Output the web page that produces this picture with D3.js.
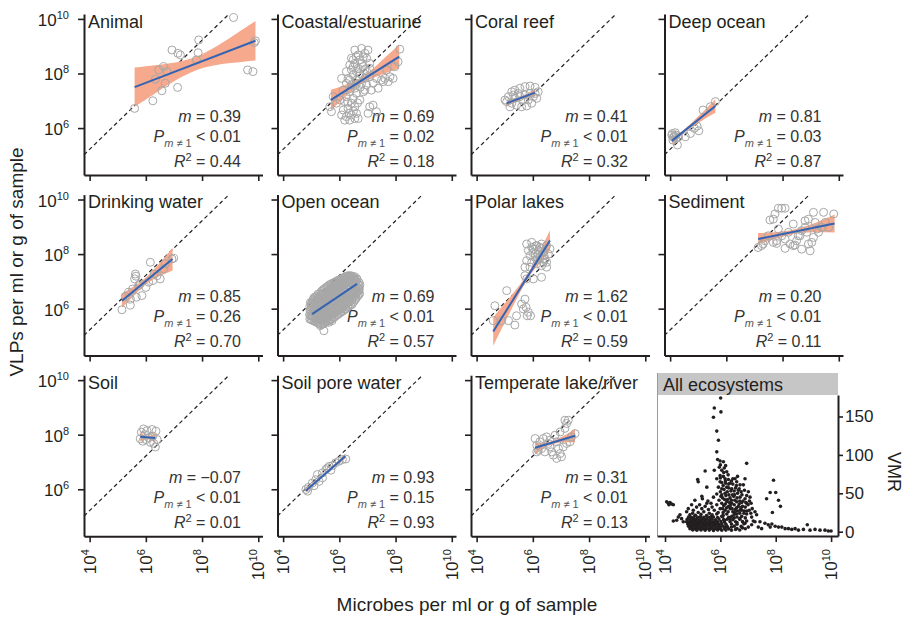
<!DOCTYPE html>
<html>
<head>
<meta charset="utf-8">
<script src="https://cdn.jsdelivr.net/npm/d3@7"></script>
<style>
  body { margin: 0; background: #fff; }
  svg { display: block; font-family: "Liberation Sans", Arial, Helvetica, sans-serif; }
</style>
</head>
<body>
<svg id="chart" width="903" height="617"></svg>
<script>
// all abundances are log10 values

const panelNames = ["Animal", "Coastal/estuarine", "Coral reef", "Deep ocean",
  "Drinking water", "Open ocean", "Polar lakes", "Sediment",
  "Soil", "Soil pore water", "Temperate lake/river"];

const statM = ["0.39", "0.69", "0.41", "0.81", "0.85", "0.69", "1.62", "0.20", "\u22120.07", "0.93", "0.31"];
const statP = ["< 0.01", "= 0.02", "< 0.01", "= 0.03", "= 0.26", "< 0.01", "< 0.01", "< 0.01", "< 0.01", "= 0.15", "< 0.01"];
const statR2 = ["0.44", "0.18", "0.32", "0.87", "0.70", "0.57", "0.59", "0.11", "0.01", "0.93", "0.13"];

const logTicks = [4, 6, 8, 10];
const logTicksY = [6, 8, 10];
const vmrTicks = [0, 50, 100, 150];

// dashed reference line (VLP vs microbes)
const refLine = [[3.8, 5.02], [8.93, 10.15]];

const animalPts = [[9.12,10.05],[7.88,9.23],[9.9,9.2],[9.86,9.13],[6.93,8.86],[7.14,8.74],[7.23,8.68],[7.86,8.76],[7.8,8.5],[6.63,8.25],[6.46,8.13],[6.75,8.07],[9.62,8.13],[9.81,8.07],[6.34,7.79],[6.69,7.64],[7.13,7.49],[6.57,7.37],[6.25,7.0],[5.6,6.72]];

const coastalPts = [[6.55,8.86],[6.79,8.92],[7.02,8.86],[6.91,8.74],[6.67,8.68],[6.43,8.56],[6.37,8.31],[6.55,8.37],[6.73,8.5],[6.97,8.56],[7.08,8.37],[6.85,8.25],[6.67,8.19],[6.43,8.13],[6.49,7.94],[6.73,8.0],[6.97,8.07],[7.08,8.19],[6.25,8.07],[6.31,7.82],[6.61,7.76],[6.91,7.82],[7.08,7.88],[6.79,7.64],[6.43,7.58],[6.25,7.64],[6.08,7.82],[6.55,7.46],[6.97,7.58],[7.2,7.64],[7.32,7.82],[7.5,7.76],[7.62,7.82],[7.8,7.88],[7.91,7.82],[7.38,7.46],[7.14,7.39],[6.85,7.33],[6.61,7.27],[6.37,7.33],[6.14,7.39],[6.25,7.15],[6.49,7.09],[6.73,7.03],[6.43,6.91],[6.19,6.97],[6.02,7.03],[6.31,6.72],[6.55,6.78],[6.14,6.66],[6.08,6.48],[6.25,6.42],[6.43,6.48],[6.61,6.54],[6.37,6.29],[6.55,6.35],[6.19,6.29],[6.67,6.35],[7.08,6.78],[7.2,6.84],[7.32,6.6],[7.02,6.54],[5.72,6.6],[5.66,6.78],[5.9,6.91],[5.78,7.15],[8.09,8.43],[8.15,8.89],[7.97,8.25],[7.68,8.13],[7.56,7.7],[7.74,7.7],[6.79,8.37],[6.49,8.5],[6.91,7.39],[6.37,7.76],[6.61,8.07],
  [6.6,8.62],[6.85,8.6],[6.5,8.25],[6.7,7.9],[6.9,8.15],[6.6,7.6],[6.4,7.45],[6.75,7.5],[6.3,6.95],[6.5,6.62],[6.35,6.55],[6.65,6.92]];

const coralPts = [[5.01,7.03],[5.13,7.15],[5.25,7.33],[5.36,7.39],[5.54,7.46],[5.72,7.52],[5.9,7.54],[6.08,7.49],[6.19,7.33],[6.14,7.09],[5.96,6.91],[5.78,6.81],[5.6,6.78],[5.42,6.84],[5.25,6.91],[5.19,6.78],[5.36,7.09],[5.54,7.15],[5.72,7.21],[5.9,7.27],[5.66,7.03],[5.84,7.03],[6.02,7.15],[5.48,7.27],[5.31,7.21],[5.07,6.97],[6.08,7.27]];

const deepPts = [[4.06,5.74],[4.12,5.66],[4.22,5.74],[4.18,5.83],[4.3,5.68],[4.1,5.56],[4.26,5.38],[4.54,5.68],[4.72,5.8],[4.86,5.99],[4.96,6.07],[5.17,6.66],[5.43,6.78],[5.61,6.97],[5.02,5.9],[4.08,5.8],[4.15,5.7],[4.2,5.62]];

const drinkingPts = [[5.15,5.96],[5.45,6.13],[5.63,7.27],[5.65,7.19],[5.6,7.09],[5.86,6.48],[5.66,6.42],[6.0,6.78],[6.16,7.7],[6.25,7.03],[6.4,7.21],[6.51,7.09],[6.63,7.46],[6.69,7.64],[6.93,7.82],[6.99,7.85],[5.39,6.6],[5.53,6.72],[5.8,6.91],[6.1,6.97],[5.74,6.84],[6.3,7.27],[5.27,6.45],[5.45,6.35]];

const openOceanPts = [
  [4.95,5.62],[4.94,5.78],[4.96,5.93],[4.95,6.08],[4.97,6.22],
  [5.05,5.57],[5.04,5.72],[5.06,5.88],[5.05,6.03],[5.03,6.19],[5.06,6.33],
  [5.15,5.52],[5.14,5.66],[5.16,5.83],[5.15,5.97],[5.13,6.14],[5.16,6.29],[5.15,6.43],
  [5.25,5.47],[5.24,5.63],[5.26,5.79],[5.25,5.95],[5.23,6.1],[5.26,6.24],[5.25,6.39],[5.24,6.53],
  [5.35,5.41],[5.34,5.57],[5.36,5.74],[5.35,5.9],[5.33,6.05],[5.36,6.21],[5.35,6.36],[5.34,6.5],[5.36,6.63],
  [5.45,5.46],[5.44,5.6],[5.46,5.77],[5.45,5.92],[5.43,6.08],[5.46,6.23],[5.45,6.38],[5.44,6.55],[5.46,6.72],
  [5.55,5.52],[5.54,5.67],[5.56,5.83],[5.55,5.98],[5.53,6.14],[5.56,6.3],[5.55,6.46],[5.54,6.62],[5.56,6.8],
  [5.65,5.59],[5.64,5.75],[5.66,5.9],[5.65,6.06],[5.63,6.21],[5.66,6.37],[5.65,6.53],[5.64,6.7],[5.66,6.88],
  [5.75,5.63],[5.74,5.8],[5.76,5.96],[5.75,6.12],[5.73,6.27],[5.76,6.44],[5.75,6.6],[5.74,6.77],[5.76,6.93],
  [5.85,5.71],[5.84,5.86],[5.86,6.02],[5.85,6.18],[5.83,6.34],[5.86,6.5],[5.85,6.66],[5.84,6.83],[5.86,6.98],
  [5.95,5.79],[5.94,5.95],[5.96,6.1],[5.95,6.26],[5.93,6.42],[5.96,6.58],[5.95,6.74],[5.94,6.9],[5.96,7.04],
  [6.05,5.86],[6.04,6.01],[6.06,6.17],[6.05,6.33],[6.03,6.49],[6.06,6.64],[6.05,6.8],[6.04,6.95],[6.06,7.08],
  [6.15,5.93],[6.14,6.09],[6.16,6.25],[6.15,6.4],[6.13,6.56],[6.16,6.72],[6.15,6.87],[6.14,7.02],[6.16,7.14],
  [6.25,6.01],[6.24,6.17],[6.26,6.33],[6.25,6.48],[6.23,6.63],[6.26,6.79],[6.25,6.94],[6.24,7.08],[6.26,7.19],
  [6.35,6.09],[6.34,6.25],[6.36,6.41],[6.35,6.56],[6.33,6.71],[6.36,6.86],[6.35,7.01],[6.34,7.15],[6.36,7.21],
  [6.45,6.16],[6.44,6.32],[6.46,6.48],[6.45,6.64],[6.43,6.8],[6.46,6.95],[6.45,7.08],[6.44,7.2],
  [6.55,6.31],[6.54,6.46],[6.56,6.62],[6.55,6.78],[6.53,6.93],[6.56,7.06],[6.55,7.17],
  [6.65,6.46],[6.64,6.61],[6.66,6.76],[6.65,6.92],[6.63,7.08],
  [6.72,6.56],[6.71,6.72],[6.73,6.88],
  [5.0,5.6],[5.01,5.75],[4.99,5.9],[5.0,6.06],[5.01,6.21],
  [5.1,5.55],[5.09,5.7],[5.11,5.86],[5.1,6.01],[5.09,6.16],[5.11,6.31],[5.1,6.4],
  [5.2,5.5],[5.19,5.66],[5.21,5.82],[5.2,5.98],[5.19,6.13],[5.21,6.28],[5.2,6.44],
  [5.3,5.45],[5.29,5.6],[5.31,5.76],[5.3,5.92],[5.29,6.08],[5.31,6.23],[5.3,6.39],[5.29,6.55],
  [5.4,5.44],[5.39,5.59],[5.41,5.75],[5.4,5.91],[5.39,6.06],[5.41,6.22],[5.4,6.38],[5.39,6.54],[5.41,6.68],
  [5.5,5.5],[5.49,5.65],[5.51,5.8],[5.5,5.96],[5.49,6.11],[5.51,6.27],[5.5,6.43],[5.49,6.59],[5.51,6.76],
  [5.6,5.56],[5.59,5.71],[5.61,5.87],[5.6,6.02],[5.59,6.18],[5.61,6.34],[5.6,6.5],[5.59,6.66],[5.61,6.84],
  [5.7,5.62],[5.69,5.78],[5.71,5.93],[5.7,6.09],[5.69,6.25],[5.71,6.41],[5.7,6.57],[5.69,6.73],[5.71,6.9],
  [5.8,5.68],[5.79,5.84],[5.81,6.0],[5.8,6.15],[5.79,6.31],[5.81,6.47],[5.8,6.63],[5.79,6.8],[5.81,6.95],
  [5.9,5.76],[5.89,5.92],[5.91,6.07],[5.9,6.23],[5.89,6.39],[5.91,6.55],[5.9,6.71],[5.89,6.87],[5.91,7.01],
  [6.0,5.83],[5.99,5.99],[6.01,6.14],[6.0,6.3],[5.99,6.46],[6.01,6.62],[6.0,6.78],[5.99,6.93],[6.01,7.06],
  [6.1,5.9],[6.09,6.06],[6.11,6.22],[6.1,6.38],[6.09,6.53],[6.11,6.69],[6.1,6.85],[6.09,7.0],[6.11,7.11],
  [6.2,5.98],[6.19,6.14],[6.21,6.3],[6.2,6.46],[6.19,6.61],[6.21,6.77],[6.2,6.92],[6.19,7.06],[6.21,7.17],
  [6.3,6.06],[6.29,6.22],[6.31,6.38],[6.3,6.54],[6.29,6.69],[6.31,6.84],[6.3,6.99],[6.29,7.13],[6.31,7.2],
  [6.4,6.14],[6.39,6.3],[6.41,6.46],[6.4,6.62],[6.39,6.78],[6.41,6.93],[6.4,7.07],[6.39,7.19],
  [6.5,6.24],[6.49,6.4],[6.51,6.56],[6.5,6.72],[6.49,6.88],[6.51,7.02],[6.5,7.14],
  [6.6,6.38],[6.59,6.54],[6.61,6.7],[6.6,6.86],[6.59,7.0],[6.61,7.1],
  [6.7,6.52],[6.69,6.66],[6.71,6.82],[6.7,6.96],
  [5.45,5.19],[5.33,5.38],[5.63,5.5],[5.74,5.56],[5.15,5.62],[5.09,5.93],[4.97,5.74],[6.4,7.15],[6.51,7.09],[6.63,6.6],[6.22,5.99]];

const polarPts = [[5.78,8.37],[5.96,8.43],[6.14,8.31],[6.31,8.37],[6.49,8.31],[6.61,8.19],[6.02,8.19],[5.84,8.13],[6.2,8.13],[6.37,8.07],[6.55,8.0],[5.9,7.94],[6.08,7.88],[6.25,7.88],[6.43,7.82],[5.78,7.76],[5.96,7.7],[6.14,7.64],[6.31,7.58],[6.49,7.52],[5.72,7.52],[5.9,7.52],[6.08,8.0],[6.25,8.25],[5.96,8.25],[6.49,7.7],[6.37,7.7],[6.1,8.3],[6.3,8.2],[6.0,8.05],[6.2,7.98],[6.4,7.95],[6.15,7.78],[6.35,7.82],
  [5.78,7.09],[6.02,7.09],[6.31,7.15],[5.72,7.21],[5.07,6.66],[4.65,6.11],[4.59,5.56],[4.89,5.56],[5.13,5.56],[5.36,5.4],[5.72,6.35],[5.76,6.05],[5.84,5.87],[5.8,5.74],[5.92,5.74],[5.6,6.17],[5.66,5.99],[5.42,5.74]];

const sedimentPts = [[7.13,8.24],[7.25,8.31],[7.31,8.37],[7.67,8.43],[7.79,8.49],[8.09,8.21],[8.27,8.37],[8.44,8.33],[8.5,8.49],[8.62,8.67],[8.68,8.86],[8.8,8.98],[8.86,8.8],[8.92,8.37],[8.98,8.12],[9.04,8.43],[9.1,8.61],[9.16,9.16],[9.22,8.92],[9.28,8.8],[9.4,8.98],[9.52,9.16],[9.64,8.98],[9.82,9.47],[9.46,9.53],[9.1,9.53],[8.09,8.55],[8.21,8.8],[8.38,9.1],[7.85,8.92],[7.67,9.28],[7.73,9.47],[7.85,9.68],[7.97,9.68],[8.09,9.68],[7.55,9.25],[8.8,9.22],[8.56,8.67],[7.97,8.67],[7.49,8.67],[7.37,8.49],[8.92,9.28],[7.79,8.39],[8.68,8.18],[8.38,8.31]];

const soilPts = [[5.84,8.09],[5.92,8.21],[6.04,8.15],[6.22,8.19],[6.36,8.13],[5.8,7.85],[5.89,7.76],[6.0,7.82],[6.16,7.72],[6.28,7.68],[6.34,7.55],[6.1,7.89],[6.25,7.95],[5.96,8.0],[6.4,7.82]];

const porePts = [[4.81,5.99],[4.9,6.07],[5.04,6.23],[5.16,6.35],[5.28,6.29],[5.22,6.54],[5.4,6.6],[5.52,6.72],[5.64,6.84],[5.7,6.7],[5.76,6.87],[5.87,6.97],[5.99,7.03],[6.11,7.09],[6.23,7.11],[5.58,6.78],[5.1,6.13],[5.4,6.42],[4.87,5.93]];

const temperatePts = [[6.08,7.86],[6.14,7.61],[6.19,7.43],[6.25,7.74],[6.37,7.86],[6.49,7.92],[6.55,7.68],[6.61,7.55],[6.67,7.37],[6.73,7.25],[6.85,7.13],[6.97,7.31],[7.02,7.19],[6.91,7.49],[7.08,7.55],[7.2,7.68],[7.32,7.74],[7.38,7.92],[7.5,8.04],[7.14,8.23],[7.2,8.41],[7.26,8.53],[7.14,8.53],[6.97,8.1],[6.79,7.98],[6.31,7.49],[6.43,7.37],[6.61,7.8],[6.85,7.74],[6.14,7.37]];

const panelPts = [animalPts, coastalPts, coralPts, deepPts, drinkingPts, openOceanPts,
  polarPts, sedimentPts, soilPts, porePts, temperatePts];

// regression line end points
const fitLines = [
  [[5.6,7.5],[9.9,9.2]],
  [[5.7,7.03],[8.13,8.62]],
  [[5.07,6.91],[6.08,7.3]],
  [[4.06,5.53],[5.61,6.81]],
  [[5.15,6.29],[6.95,7.82]],
  [[5.03,5.8],[6.63,6.91]],
  [[4.59,5.16],[6.61,8.5]],
  [[7.13,8.55],[9.85,9.12]],
  [[5.8,7.92],[6.34,7.88]],
  [[4.81,5.95],[6.21,7.21]],
  [[6.08,7.52],[7.5,7.96]]
];

// confidence band: [x, lower, upper]
const fitBands = [
  [[5.6,6.78,8.22],[6.5,7.39,8.32],[7.75,8.1,8.6],[9.0,8.38,9.31],[9.9,8.48,9.92]],
  [[5.7,6.66,7.4],[6.2,7.13,7.58],[6.8,7.63,7.87],[7.4,7.92,8.37],[8.13,8.18,9.06]],
  [[5.07,6.79,7.03],[5.57,7.04,7.16],[6.08,7.16,7.44]],
  [[4.06,5.41,5.65],[4.5,5.83,5.95],[5.0,6.19,6.43],[5.61,6.56,7.06]],
  [[5.15,6.03,6.56],[5.6,6.5,6.84],[6.05,6.93,7.19],[6.5,7.2,7.68],[6.95,7.4,8.22]],
  [[5.03,5.76,5.84],[5.8,6.3,6.36],[6.63,6.86,6.96]],
  [[4.59,4.64,5.68],[5.2,5.9,6.44],[5.8,7.06,7.26],[6.2,7.62,8.02],[6.61,8.14,8.86]],
  [[7.13,8.37,8.77],[7.8,8.57,8.81],[8.4,8.74,8.9],[9.1,8.8,9.12],[9.85,8.79,9.45]],
  [[5.8,7.74,8.1],[6.07,7.85,7.95],[6.34,7.7,8.06]],
  [[4.81,5.87,6.03],[5.5,6.53,6.61],[6.21,7.12,7.3]],
  [[6.08,7.3,7.72],[6.7,7.65,7.77],[7.5,7.72,8.2]]
];

// all ecosystems: [log10 microbes, VMR]
const allPts = [
  [6.01,174],[5.78,161],[6.02,156],[5.75,149],[5.87,131],[5.93,119],[5.87,104],[5.9,94],[5.99,92],[6.11,91],[6.19,86],[6.14,83],[6.05,80],[5.78,80],[5.45,79],[6.23,78],[5.99,73],[6.11,72],[5.87,69],[6.17,69],[6.29,68],[5.18,68],[5.2,65],[5.99,65],[6.19,63],[6.35,63],[6.53,69],[6.59,65],[6.71,61],[6.83,61],[6.95,89],[6.89,69],
  [5.51,58],[5.93,58],[6.05,56],[6.23,58],[6.41,56],[6.65,54],[6.87,54],[7.01,52],
  [5.33,46],[5.35,43],[5.75,45],[5.87,49],[6.02,46],[6.17,50],[6.31,48],[6.51,48],[6.71,45],[6.89,43],[7.07,45],
  [7.11,37],[6.95,37],[6.77,38],[6.59,39],[6.41,37],[6.23,39],[6.05,37],[5.87,35],[5.66,37],[5.51,37],
  [5.08,41],[4.96,35],[4.84,30],[4.78,26],[5.02,28],[5.14,32],[5.33,30],[5.57,29],[5.78,28],[5.99,30],[6.17,28],[6.35,30],[6.53,29],[6.71,28],[6.87,27],[7.04,28],[7.25,26],
  [7.31,22],[7.13,19],[6.95,23],[6.77,20],[6.59,23],[6.41,20],[6.23,23],[6.05,20],[5.87,23],[5.69,20],
  [6.1,60],[6.25,52],[6.35,44],[6.45,62],[6.55,57],[6.62,50],[6.75,52],[6.8,33],[6.5,35],[6.3,33],[6.15,42],[6.0,52],[5.95,41],[6.4,41],[6.7,40],[6.9,32],[7.0,35],[7.15,30],[6.58,31],[6.28,26],[6.12,34],[5.92,25],[6.85,24],[6.45,26],[6.65,33],[6.2,47],[6.48,46],[6.78,48],[6.95,47],[6.38,53],[6.58,60],[6.05,64],[6.28,74],[6.12,77],[6.4,66],[6.0,87],[5.96,84],
  [6.08,44],[6.18,36],[6.26,42],[6.33,38],[6.44,48],[6.52,41],[6.6,44],[6.68,36],[6.74,31],[6.82,40],[6.92,38],[7.05,40],[6.22,31],[6.36,34],[6.52,25],[6.7,24],[6.1,25],[6.42,30],[6.62,27],[6.78,28],[6.96,27],[7.1,24],[6.05,48],[6.13,55],[6.3,57],[6.5,53],[6.68,56],[6.45,69],[6.62,72],[6.3,62],[6.18,66],[6.0,70],[6.08,30],[6.5,18],[6.7,17],[6.9,18],[6.35,17],[6.15,15],[6.6,12],[6.95,14],[6.4,6],[6.8,5],[6.55,3],[6.2,6],
  [5.0,24],[5.2,25],[5.4,26],[5.6,24],[5.25,35],[5.45,33],[5.55,40],[5.7,32],
  [4.06,39],[4.12,37],[4.18,38],[4.24,36],[4.3,35],[4.14,35],[4.3,14],[4.48,19],[4.6,17],[4.66,13],[4.54,22],[4.42,15],
  [4.9,22],[5.1,21.5],[5.3,22.5],[5.5,21],[5.7,22],[6.1,21.5],[6.5,22.5],
  [4.85,19],[4.95,18.5],[5.05,19.5],[5.18,18.8],[5.28,19.3],[5.4,18.6],[5.52,19.4],[5.62,18.7],[5.75,19.2],[5.9,18.4],[6.08,19.6],[6.3,18.9],[6.6,19.1],
  [4.8,16],[4.9,15.5],[5.0,16.4],[5.08,15.7],[5.16,16.2],[5.25,15.6],[5.33,16.3],[5.42,15.8],[5.5,16.5],[5.6,15.6],[5.7,16.1],[5.82,15.5],[5.95,16.4],[6.12,15.8],[6.25,16.2],[6.45,15.7],[6.7,16.3],
  [4.78,13],[4.88,12.6],[4.97,13.4],[5.05,12.8],[5.13,13.3],[5.22,12.5],[5.3,13.2],[5.38,12.7],[5.46,13.5],[5.55,12.9],[5.63,13.1],[5.72,12.6],[5.8,13.4],[5.9,12.8],[6.02,13.2],[6.15,12.7],[6.35,13.3],[6.55,12.9],[6.8,13.1],
  [4.82,10],[4.92,9.6],[5.0,10.4],[5.1,9.8],[5.18,10.2],[5.26,9.5],[5.35,10.3],[5.43,9.7],[5.51,10.1],[5.6,9.6],[5.68,10.4],[5.77,9.9],[5.86,10.2],[5.95,9.5],[6.05,10.3],[6.2,9.8],[6.4,10.1],[6.6,9.7],[6.85,10.2],
  [4.85,7],[4.95,6.6],[5.03,7.3],[5.12,6.8],[5.2,7.2],[5.3,6.5],[5.38,7.4],[5.47,6.9],[5.55,7.1],[5.64,6.6],[5.73,7.3],[5.82,6.8],[5.92,7.2],[6.0,6.7],[6.1,7.1],[6.25,6.8],[6.5,7.2],[6.75,6.9],
  [4.9,4],[5.0,4.4],[5.08,3.7],[5.17,4.2],[5.25,3.8],[5.34,4.3],[5.42,3.9],[5.5,4.1],[5.6,3.6],[5.7,4.3],[5.8,3.9],[5.9,4.2],[6.0,3.8],[6.15,4.1],[6.3,3.7],[6.6,4.2],[6.9,3.9],
  [5.0,2.2],[5.15,1.8],[5.3,2.3],[5.45,1.9],[5.6,2.1],[5.75,1.7],[5.9,2.2],[6.05,1.9],[6.2,2.1],[6.4,1.8],[6.7,2.2],
  [7.67,43],[7.8,51],[7.92,67],[8.0,51],[8.1,41],[8.17,33],[7.88,25],[7.61,11],[7.73,9],[7.86,10],[7.98,7],[8.1,6],[8.22,6],[8.34,4],[7.8,6],[8.46,4],[8.58,3],[8.7,4],[8.82,2],[9.0,3],[9.14,9],[9.24,2],[9.42,3],[9.6,2],[9.78,2],[9.9,1],[10.0,1],
  [7.25,13],[7.37,6],[7.49,4],[7.13,9],[7.01,6],[6.89,11],[7.43,13],[7.19,14]
];

const ink = "#231f20";
const svg = d3.select("#chart");

const xLog = d3.scaleLinear().domain([3.8, 10.15]).range([0, 178.5]);
const yLog = d3.scaleLinear().domain([4.28, 10.18]).range([161, 0]);

const powLabel = (text, exp) => {
  text.append("tspan").text("10");
  text.append("tspan").attr("font-size", 11).attr("dy", -7).text(exp);
};

const styleAxis = (g) => {
  g.select(".domain").attr("stroke", ink).attr("stroke-width", 2);
  g.selectAll(".tick line").attr("stroke", ink).attr("stroke-width", 1.6);
};

panelNames.forEach((name, i) => {
  const col = i % 4;
  const row = Math.floor(i / 4);
  const g = svg.append("g")
    .attr("transform", `translate(${84 + 193.5 * col},${14 + 180.6 * row})`);

  // title
  g.append("text")
    .attr("x", 4).attr("y", 13.5)
    .attr("font-size", 18).attr("fill", ink)
    .text(name);

  // stats block
  const st = g.append("g").attr("fill", "#333").attr("font-size", 16).attr("text-anchor", "end");
  const t1 = st.append("text").attr("x", 157).attr("y", 107.7);
  t1.append("tspan").attr("font-style", "italic").text("m");
  t1.append("tspan").text(" = " + statM[i]);

  const t2 = st.append("text").attr("x", 157).attr("y", 127.7);
  t2.append("tspan").attr("font-style", "italic").text("P");
  t2.append("tspan").attr("font-size", 11).attr("dy", 5).attr("fill", "#555")
    .html('<tspan font-style="italic">m</tspan> \u2260 1');
  t2.append("tspan").attr("dy", -5).text(" " + statP[i]);

  const t3 = st.append("text").attr("x", 157).attr("y", 152.7);
  t3.append("tspan").attr("font-style", "italic").text("R");
  t3.append("tspan").attr("font-size", 11).attr("dy", -6).text("2");
  t3.append("tspan").attr("dy", 6).text(" = " + statR2[i]);

  // reference line
  g.append("path")
    .attr("d", d3.line().x(d => xLog(d[0])).y(d => yLog(d[1]))(refLine))
    .attr("fill", "none").attr("stroke", ink)
    .attr("stroke-width", 1.2).attr("stroke-dasharray", "4,3");

  // confidence band
  const band = d3.area()
    .x(d => xLog(d[0]))
    .y0(d => yLog(d[1]))
    .y1(d => yLog(d[2]))
    .curve(d3.curveNatural);
  g.append("path")
    .attr("d", band(fitBands[i]))
    .attr("fill", "#f6a98c");

  // samples
  g.append("g").selectAll("circle")
    .data(panelPts[i])
    .join("circle")
    .attr("cx", d => xLog(d[0]))
    .attr("cy", d => yLog(d[1]))
    .attr("r", 4)
    .attr("fill", "none")
    .attr("stroke", "#a7a7a7")
    .attr("stroke-width", 1);

  // fit
  g.append("path")
    .attr("d", d3.line().x(d => xLog(d[0])).y(d => yLog(d[1]))(fitLines[i]))
    .attr("stroke", "#3563b3").attr("stroke-width", 2).attr("fill", "none");

  // axes
  g.append("g")
    .attr("transform", "translate(0,161)")
    .call(d3.axisBottom(xLog).tickValues(logTicks).tickSize(6).tickSizeOuter(0).tickFormat(""))
    .call(styleAxis);
  g.append("g")
    .call(d3.axisLeft(yLog).tickValues(logTicksY).tickSize(6).tickSizeOuter(0).tickFormat(""))
    .call(styleAxis);

  if (col === 0) {
    logTicksY.forEach(v => {
      const t = g.append("text")
        .attr("x", -15).attr("y", yLog(v) + 7)
        .attr("text-anchor", "end").attr("font-size", 17).attr("fill", ink);
      powLabel(t, v);
    });
  }
  if (row === 2) {
    logTicks.forEach(v => {
      const t = g.append("text")
        .attr("transform", `translate(${xLog(v)},174) rotate(-90)`)
        .attr("y", 6)
        .attr("text-anchor", "end").attr("font-size", 17).attr("fill", ink);
      powLabel(t, v);
    });
  }
});

// ---- All ecosystems panel ----
const xAll = d3.scaleLinear().domain([3.71, 10.25]).range([657, 838]);
const yVmr = d3.scaleLinear().domain([-5.6, 178]).range([536, 395]);

svg.append("rect")
  .attr("x", 657).attr("y", 373).attr("width", 181).attr("height", 22)
  .attr("fill", "#c6c6c6");
svg.append("text")
  .attr("x", 663).attr("y", 390.5)
  .attr("font-size", 18).attr("fill", ink)
  .text("All ecosystems");
svg.append("line")
  .attr("x1", 657.5).attr("x2", 657.5).attr("y1", 373).attr("y2", 536)
  .attr("stroke", "#9a9a9a").attr("stroke-width", 1);

svg.append("g").selectAll("circle")
  .data(allPts)
  .join("circle")
  .attr("cx", d => xAll(d[0]))
  .attr("cy", d => yVmr(d[1]))
  .attr("r", 1.8)
  .attr("fill", ink);

svg.append("g")
  .attr("transform", "translate(0,536)")
  .call(d3.axisBottom(xAll).tickValues(logTicks).tickSize(6).tickSizeOuter(0).tickFormat(""))
  .call(styleAxis);
logTicks.forEach(v => {
  const t = svg.append("text")
    .attr("transform", `translate(${xAll(v)},549) rotate(-90)`)
    .attr("y", 6)
    .attr("text-anchor", "end").attr("font-size", 17).attr("fill", ink);
  powLabel(t, v);
});

const rAxis = svg.append("g")
  .attr("transform", "translate(838,0)")
  .call(d3.axisRight(yVmr).tickValues(vmrTicks).tickSize(5).tickPadding(2).tickSizeOuter(0))
  .call(styleAxis);
rAxis.selectAll("text").attr("font-size", 17).attr("fill", ink)
  .attr("font-family", "'Liberation Sans', Arial, sans-serif");

svg.append("text")
  .attr("transform", "translate(888,472) rotate(90)")
  .attr("text-anchor", "middle").attr("font-size", 18).attr("fill", ink)
  .text("VMR");

// ---- axis titles ----
svg.append("text")
  .attr("transform", "translate(23,262) rotate(-90)")
  .attr("text-anchor", "middle").attr("font-size", 19).attr("fill", ink)
  .text("VLPs per ml or g of sample");
svg.append("text")
  .attr("x", 467).attr("y", 611)
  .attr("text-anchor", "middle").attr("font-size", 19).attr("fill", ink)
  .text("Microbes per ml or g of sample");
</script>
</body>
</html>
